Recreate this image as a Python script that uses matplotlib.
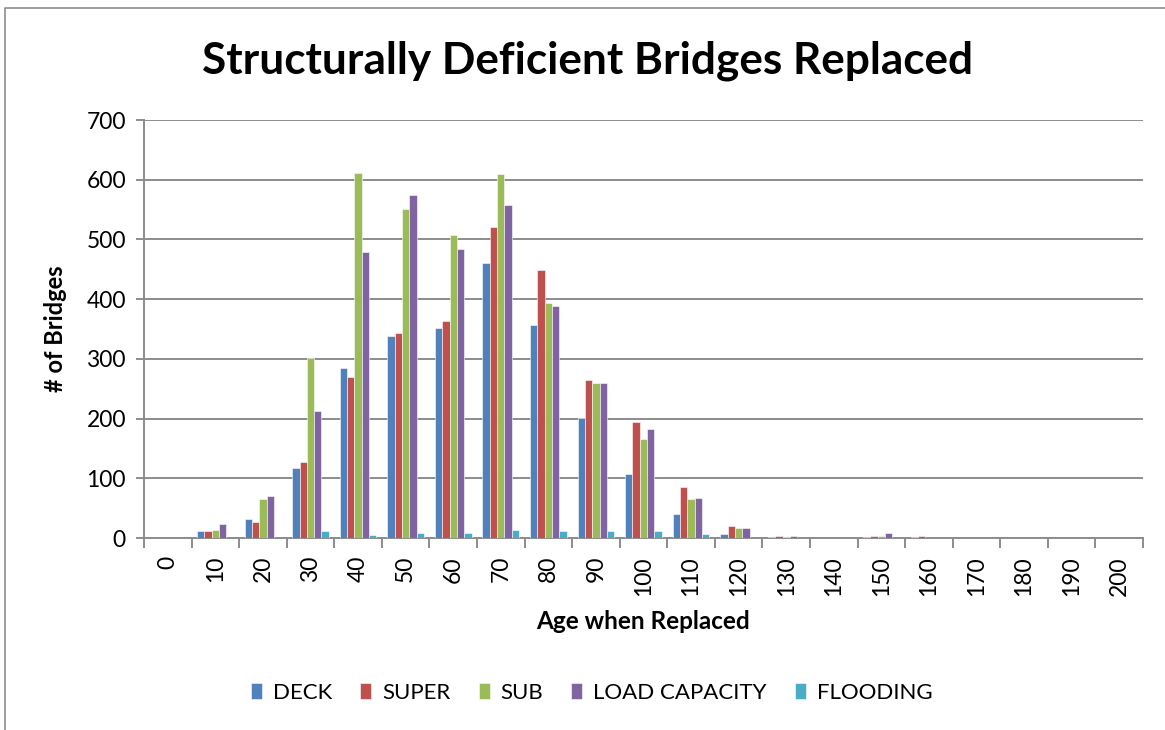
import matplotlib
matplotlib.use("Agg")
import matplotlib.pyplot as plt
import numpy as np
from matplotlib.lines import Line2D

# Age categories (years) and counts per deficiency type
ages = [0, 10, 20, 30, 40, 50, 60, 70, 80, 90, 100,
        110, 120, 130, 140, 150, 160, 170, 180, 190, 200]
deck = [0, 11, 32, 118, 284, 339, 351, 460, 357, 201, 107,
        40, 6, 1, 0, 2, 1, 0, 0, 0, 0]
superstr = [0, 11, 26, 128, 270, 344, 364, 521, 449, 265, 195,
            85, 20, 3, 0, 3, 4, 0, 0, 0, 0]
sub = [0, 14, 66, 302, 612, 551, 508, 610, 394, 260, 165,
       65, 16, 1, 0, 4, 0, 0, 0, 0, 0]
load_capacity = [0, 24, 70, 213, 479, 574, 484, 557, 389, 260, 183,
                 67, 17, 3, 0, 8, 0, 0, 0, 0, 0]
flooding = [0, 0, 0, 11, 5, 8, 9, 13, 12, 12, 11,
            6, 0, 0, 0, 0, 0, 0, 0, 0, 0]

series = [("DECK", deck, "#4F81BD"),
          ("SUPER", superstr, "#C0504D"),
          ("SUB", sub, "#9BBB59"),
          ("LOAD CAPACITY", load_capacity, "#8064A2"),
          ("FLOODING", flooding, "#4BACC6")]

plt.rcParams['font.family'] = ['Lato', 'DejaVu Sans']

fig = plt.figure(figsize=(11.65, 7.30), dpi=100)
ax = fig.add_axes([0.1236, 0.263, 0.8575, 0.5726])

x = np.arange(len(ages))
w = 0.154
for i, (name, vals, col) in enumerate(series):
    ax.bar(x + (i - 2) * w, vals, width=w, color=col, label=name,
           edgecolor="white", linewidth=0.4, zorder=3)

ax.set_xlim(-0.5, len(ages) - 0.5)
ax.set_ylim(0, 700)
ax.set_yticks(range(0, 701, 100))
ax.yaxis.grid(True, color="#8c8c8c", linewidth=1.4, zorder=0)
ax.set_axisbelow(True)

# tick marks between categories, labels at the centers
ax.set_xticks(np.arange(-0.5, len(ages), 1.0))
ax.set_xticklabels([])
ax.set_xticks(x, minor=True)
ax.set_xticklabels([str(a) for a in ages], minor=True, rotation=90, fontsize=16.5)
ax.tick_params(axis="x", which="major", length=7, width=1.4, color="#8c8c8c")
ax.tick_params(axis="x", which="minor", length=0, pad=13)
ax.tick_params(axis="y", length=6, width=1.4, color="#8c8c8c", labelsize=16.5, pad=7)

for s in ["top", "right"]:
    ax.spines[s].set_visible(False)
for s in ["left", "bottom"]:
    ax.spines[s].set_color("#8c8c8c")
    ax.spines[s].set_linewidth(1.4)

ax.set_xlabel("Age when Replaced", fontsize=17.5, fontweight="bold", labelpad=10)
ax.set_ylabel("# of Bridges", fontsize=17, fontweight="bold", labelpad=14)
fig.text(0.504, 0.917, "Structurally Deficient Bridges Replaced",
         ha="center", va="center", fontsize=31.8, fontweight="bold")

fig.legend(loc="center", bbox_to_anchor=(0.508, 0.051), ncol=5, frameon=False,
           fontsize=16, handlelength=0.5, handleheight=0.7,
           handletextpad=0.5, columnspacing=1.25)

# chart-area border (only left and top edges are inside the picture)
bx = 4.5 / 1165
by = 1 - 7.5 / 730
fig.lines.append(Line2D([bx, bx, 1.0], [0.0, by, by], transform=fig.transFigure,
                        color="#8c8c8c", linewidth=1.2))

fig.savefig("out.png", dpi=100)
